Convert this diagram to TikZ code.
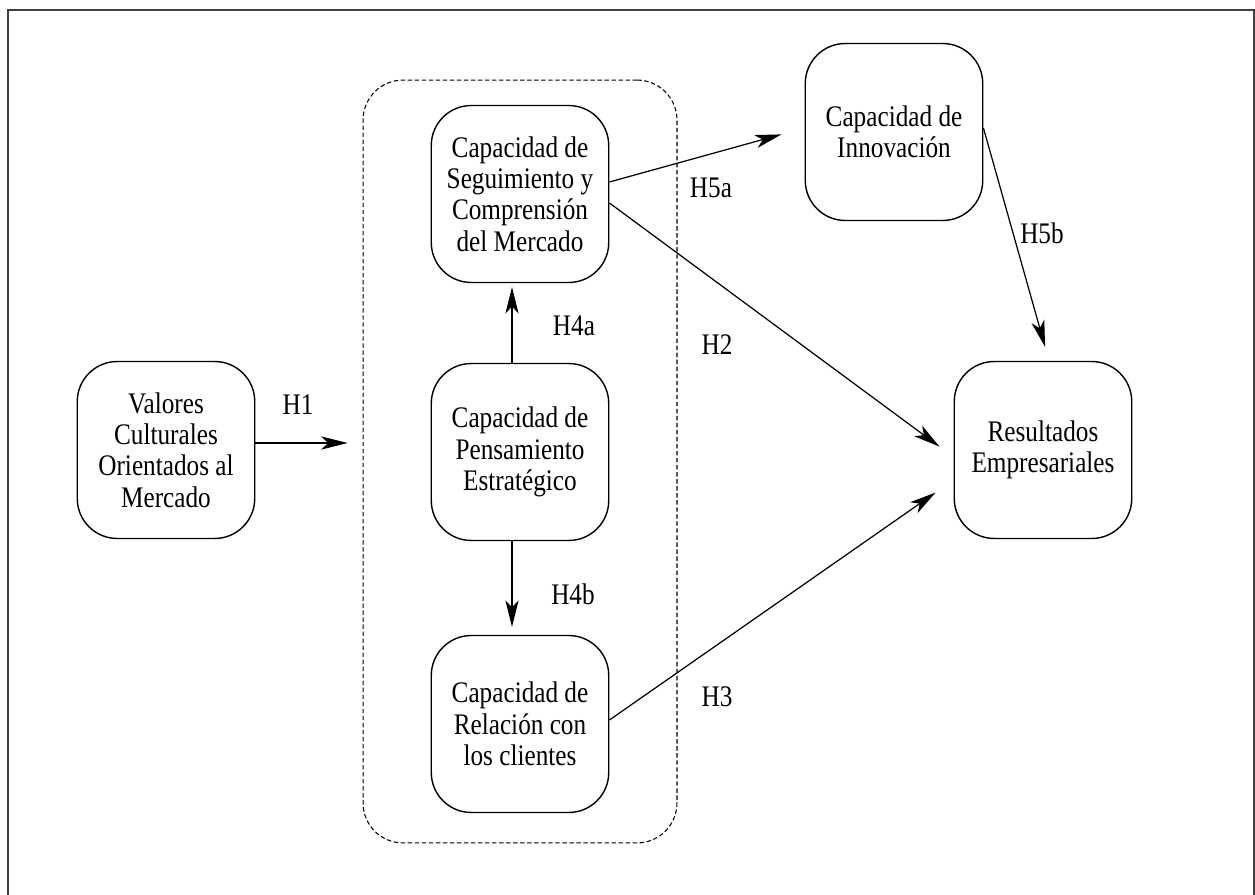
\documentclass[tikz,border=0pt]{standalone}
\usepackage{fontspec}
\setmainfont{Liberation Serif}[FakeStretch=0.845]
\usetikzlibrary{arrows.meta,calc}
\newcommand{\capfont}{\fontsize{17}{17.9}\selectfont\lineskiplimit=-5pt\relax}

\begin{document}
\begin{tikzpicture}[x=0.02cm,y=-0.02cm,font=\capfont,
  >={Stealth[length=15pt,width=7.5pt,inset=4pt]},
  capbox/.style={draw,line width=0.8pt,rounded corners=0.8cm,minimum width=3.55cm,minimum height=3.54cm,align=center,inner sep=2pt},
  link/.style={->,line width=0.7pt}]
  \useasboundingbox (0,0) rectangle (1255,895);
  \draw[black!75,line width=1.2pt] (8,10) rectangle (1254,920);
  \node[draw,dash pattern=on 2.5pt off 1.5pt,line width=0.6pt,rounded corners=0.8cm,minimum width=6.28cm,minimum height=15.26cm] (grp) at (520,461.5) {};
  \node[capbox] (val) at (166,450) {Valores\\Culturales\\Orientados al\\Mercado};
  \node[capbox] (seg) at (520,194) {Capacidad de\\Seguimiento y\\Comprensión\\del Mercado};
  \node[capbox] (pen) at (520,452) {Capacidad de\\Pensamiento\\Estratégico};
  \node[capbox] (rel) at (520,724) {Capacidad de\\Relación con\\los clientes};
  \node[capbox] (inn) at (894,132) {Capacidad de\\Innovación};
  \node[capbox] (res) at (1043,450) {Resultados\\Empresariales};
  \foreach \n/\p/\t in {h1/{298,405}/H1, h4a/{574,326}/H4a, h4b/{573,594}/H4b, h2/{717,345}/H2,
    h3/{717,697}/H3, h5a/{711,188}/H5a, h5b/{1042,233}/H5b}
    \node (\n) at (\p) {\t};
  \coordinate (h1s) at ($(val.east)+(0,-7)$);
  \draw[link,shorten >=0.3cm] (h1s) -- (h1s -| grp.west);
  \draw[link,shorten >=0.08cm] ($(pen.north)+(-8,0)$) -- ($(seg.south)+(-8,0)$);
  \draw[link,shorten >=0.16cm] ($(pen.south)+(-8,0)$) -- ($(rel.north)+(-8,0)$);
  \draw[link,shorten >=0.35cm] ($(seg.east)+(0,9)$) -- ($(res.west)+(0,7)$);
  \draw[link,shorten >=0.44cm] ($(rel.east)+(0,-4)$) -- ($(res.west)+(0,30)$);
  \draw[link,shorten >=0.48cm] ($(seg.east)+(0,-12)$) -- ($(inn.west)+(0,-4)$);
  \draw[link,shorten >=0.29cm] ($(inn.east)+(0,-4)$) -- ($(res.north)+(6,0)$);
\end{tikzpicture}
\end{document}
